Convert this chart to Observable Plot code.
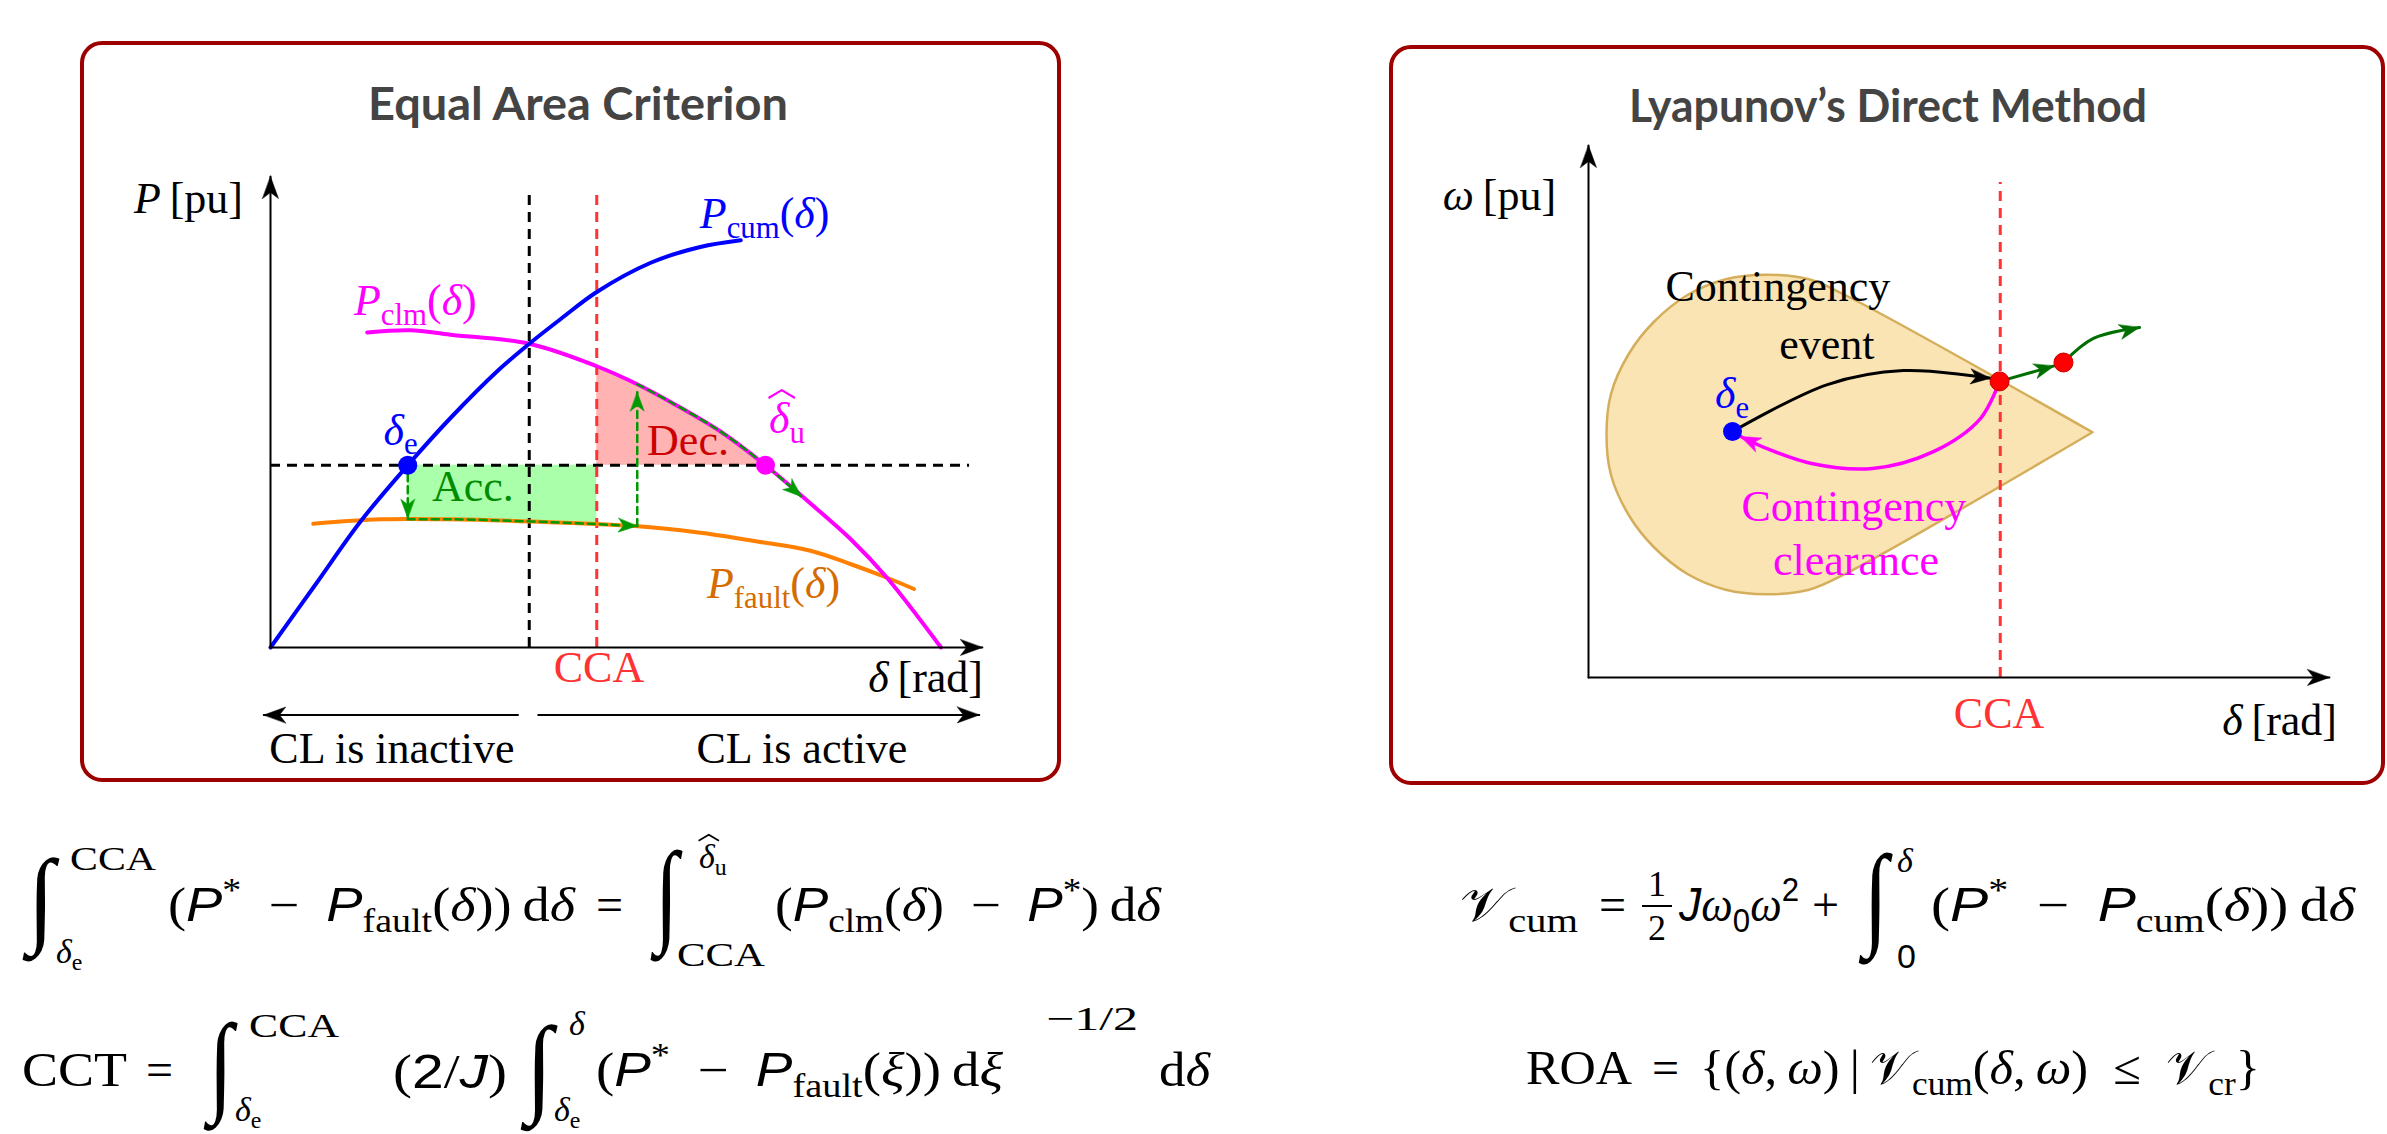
<!DOCTYPE html>
<html>
<head>
<meta charset="utf-8">
<script src="https://cdn.jsdelivr.net/npm/d3@7"></script>
<script src="https://cdn.jsdelivr.net/npm/@observablehq/plot@0.6"></script>
<style>
  html, body { margin: 0; padding: 0; background: #fff; overflow: hidden; }
  #page { position: relative; width: 2387px; height: 1134px; overflow: hidden; background: #fff; }
  .panel { position: absolute; box-sizing: border-box; border: 4px solid #9c0000; border-radius: 22px; }
  #page svg { position: absolute; left: 0; top: 0; max-width: none !important; overflow: visible; }
</style>
</head>
<body>
<div id="page">
  <div class="panel" style="left:80px;top:41px;width:981px;height:741px"></div>
  <div class="panel" style="left:1389px;top:45px;width:996px;height:740px"></div>
</div>
<script>
// ================= DATA =================
// ---- Equal Area Criterion (delta in rad, P in pu) ----
const pStar = 0.81;
const deltaE = 0.61;
const deltaCross = 1.15;
const deltaCCA = 1.45;
const deltaU = 2.20;
const eacDashTop = 2.03;
const eacPStarEnd = 3.107;
const eacAxisX = [0, 3.164];
const eacAxisY = [0, 2.093];
const pCumDelta = [0, 0.20, 0.40, 0.61, 0.80, 1.01, 1.15, 1.29, 1.45, 1.69, 1.91, 2.09];
const pCumValue = [0, 0.28, 0.56, 0.81, 1.02, 1.23, 1.35, 1.46, 1.58, 1.71, 1.78, 1.81];
const pClmDelta = [0.43, 0.62, 0.80, 1.15, 1.45, 1.63, 1.78, 2.00, 2.20, 2.40, 2.58, 2.74, 2.98];
const pClmValue = [1.40, 1.41, 1.39, 1.35, 1.25, 1.17, 1.09, 0.96, 0.81, 0.64, 0.48, 0.31, 0.00];
const pFaultDelta = [0.19, 0.49, 0.80, 1.16, 1.62, 1.91, 2.17, 2.40, 2.58, 2.74, 2.86];
const pFaultValue = [0.55, 0.57, 0.57, 0.56, 0.54, 0.51, 0.47, 0.43, 0.37, 0.31, 0.26];
const accDelta = [0.61, 0.80, 1.16, 1.45];
const accFault = [0.57, 0.57, 0.56, 0.55];
const decDelta = [1.45, 1.63, 1.78, 2.00, 2.20];
const decClm = [1.25, 1.17, 1.09, 0.96, 0.81];
const dropDelta = [0.61, 0.61],             dropP = [0.77, 0.575];
const alongFaultDelta = [0.61, 0.80, 1.16, 1.63], alongFaultP = [0.57, 0.57, 0.56, 0.54];
const riseDelta = [1.63, 1.63],             riseP = [0.54, 1.135];
const alongClmDelta = [1.63, 1.78, 2.00, 2.20, 2.36], alongClmP = [1.17, 1.09, 0.96, 0.81, 0.67];
const clInactiveDelta = [1.10, -0.03], clActiveDelta = [1.19, 3.15], clArrowP = -0.30;

// ---- Lyapunov's Direct Method (delta in rad, omega in pu) ----
const ldmAxisX = [0, 3.293];
const ldmAxisY = [0, 2.364];
const ldmCCA = 1.83, ldmDashTop = 2.20;
// region of attraction boundary: from the tip, over the top, round the left, back to the tip
const roaDelta = [2.24, 1.14, 0.98, 0.79, 0.61, 0.44, 0.29, 0.18, 0.10, 0.08, 0.10, 0.18, 0.29, 0.44, 0.61, 0.79, 0.98, 1.14, 2.24];
const roaOmega = [1.09, 1.70, 1.77, 1.79, 1.77, 1.70, 1.58, 1.44, 1.26, 1.08, 0.90, 0.72, 0.58, 0.46, 0.39, 0.37, 0.39, 0.46, 1.09];
const eqPoint = {delta: 0.64, omega: 1.093};
const clearPoints = {delta: [1.827, 2.111], omega: [1.316, 1.40]};
const eventDelta = [0.64, 1.062, 1.40, 1.787], eventOmega = [1.093, 1.302, 1.364, 1.33];
const clearDelta = [1.827, 1.742, 1.533, 1.262, 0.991, 0.791, 0.676];
const clearOmega = [1.316, 1.151, 1.004, 0.929, 0.951, 1.018, 1.071];
const post1Delta = [1.827, 2.07], post1Omega = [1.316, 1.385];
const post2Delta = [2.111, 2.244, 2.449], post2Omega = [1.40, 1.507, 1.556];

// ================= HELPERS =================
const W = 2387, H = 1134;
const SERIF = "Liberation Serif";
const SANS = "Liberation Sans";
const toPts = (xs, ys) => xs.map((x, i) => ({x, y: ys[i]}));
const stealth = {
  draw(ctx, l, r) {
    ctx.moveTo(0, -l); ctx.lineTo(r, 0); ctx.lineTo(0, -0.28 * l); ctx.lineTo(-r, 0); ctx.closePath();
  }
};
function headsOf(paths) {
  return paths.map(p => {
    const a = p[p.length - 2], b = p[p.length - 1];
    return {x: b.x, y: b.y, rot: Math.atan2(b.x - a.x, b.y - a.y) * 180 / Math.PI};
  });
}
function heads(paths, color, len, r) {
  return Plot.vector(headsOf(paths), {x: "x", y: "y", rotate: "rot", length: len, r, shape: stealth, anchor: "end", fill: color, stroke: color, strokeWidth: 0.5});
}
function mtext(g, x, y, parts, o = {}) {
  const size = o.size || 44;
  const t = g.append("text").attr("x", x).attr("y", y)
    .attr("text-anchor", o.anchor || "start")
    .attr("font-family", o.family || SERIF).attr("font-size", size)
    .attr("font-weight", o.weight || "normal")
    .attr("fill", o.color || "#000").style("white-space", "pre");
  if (o.len) t.attr("textLength", o.len).attr("lengthAdjust", "spacingAndGlyphs");
  let shift = 0;
  for (const p of parts) {
    const [s, f] = Array.isArray(p) ? p : [p, ""];
    const fl = f.split(" ");
    const ts = t.append("tspan").text(s);
    let target = 0, fs = size;
    if (fl.includes("sub")) { target = 0.22 * size; fs = 0.7 * size; }
    if (fl.includes("sup")) { target = -0.42 * size; fs = 0.7 * size; }
    if (target !== shift) ts.attr("dy", target - shift);
    shift = target;
    ts.attr("font-size", fs);
    if (fl.includes("i")) ts.attr("font-style", "italic");
    if (fl.includes("sf")) ts.attr("font-family", SANS);
  }
  return t;
}
const mctx = document.createElement("canvas").getContext("2d");
function integral(g, x0, x1, y0, y1) {
  const F = 100;
  mctx.font = `${F}px "${SERIF}"`;
  const m = mctx.measureText("∫");
  const iw = m.actualBoundingBoxLeft + m.actualBoundingBoxRight;
  const ih = m.actualBoundingBoxAscent + m.actualBoundingBoxDescent;
  const sx = (x1 - x0) / iw, sy = (y1 - y0) / ih;
  g.append("text").text("∫").attr("font-family", SERIF).attr("font-size", F)
    .attr("transform", `translate(${x0 + m.actualBoundingBoxLeft * sx},${y0 + m.actualBoundingBoxAscent * sy}) scale(${sx},${sy})`);
}
// delta with a wide hat accent (drawn as a stroke) and a subscript, starting at x
function hatDelta(g, x, y, sub, size, color) {
  mctx.font = `italic ${size}px "${SERIF}"`;
  const w = mctx.measureText("δ").width;
  mtext(g, x, y, [["δ", "i"], [sub, "sub"]], {size, color});
  const cx = x + w * 0.62, hw = 0.30 * size, y0 = y - 0.80 * size, y1 = y - 0.98 * size;
  g.append("path").attr("d", `M${cx - hw},${y0}L${cx},${y1}L${cx + hw},${y0}`)
    .attr("fill", "none").attr("stroke", color).attr("stroke-width", size * 0.05).attr("stroke-linejoin", "round");
}

// ================= LEFT PANEL =================
const cumPts = toPts(pCumDelta, pCumValue);
const clmPts = toPts(pClmDelta, pClmValue);
const faultPts = toPts(pFaultDelta, pFaultValue);
const dropPts = toPts(dropDelta, dropP);
const alongFaultPts = toPts(alongFaultDelta, alongFaultP);
const risePts = toPts(riseDelta, riseP);
const alongClmPts = toPts(alongClmDelta, alongClmP);
const eacXAxis = [{x: eacAxisX[0], y: 0}, {x: eacAxisX[1], y: 0}];
const eacYAxis = [{x: 0, y: eacAxisY[0]}, {x: 0, y: eacAxisY[1]}];
const clInactive = toPts(clInactiveDelta, [clArrowP, clArrowP]);
const clActive = toPts(clActiveDelta, [clArrowP, clArrowP]);
const GREEN = "#009a00";

const left = Plot.plot({
  width: W, height: H,
  marginLeft: 270, marginRight: W - 990, marginTop: 647 - 472.5, marginBottom: H - 647,
  x: {domain: [0, 3.2], axis: null}, y: {domain: [0, 2.1], axis: null},
  style: {background: "transparent", overflow: "visible"},
  marks: [
    Plot.areaY(toPts(accDelta, accFault), {x: "x", y1: "y", y2: pStar, fill: "#aaffaa", curve: "catmull-rom"}),
    Plot.areaY(toPts(decDelta, decClm), {x: "x", y1: pStar, y2: "y", fill: "#ffb3b3", curve: "catmull-rom"}),
    Plot.ruleY([pStar], {x1: 0, x2: eacPStarEnd, stroke: "#000", strokeWidth: 3, strokeDasharray: "10,7"}),
    Plot.ruleX([deltaCross], {y1: 0, y2: eacDashTop, stroke: "#000", strokeWidth: 3, strokeDasharray: "10,7"}),
    Plot.ruleX([deltaCCA], {y1: 0, y2: eacDashTop, stroke: "#ff3333", strokeWidth: 3, strokeDasharray: "10,7"}),
    Plot.line(faultPts, {x: "x", y: "y", stroke: "#ff8000", strokeWidth: 4, curve: "catmull-rom"}),
    Plot.line(clmPts, {x: "x", y: "y", stroke: "#ff00ff", strokeWidth: 4, curve: "catmull-rom"}),
    Plot.line(cumPts, {x: "x", y: "y", stroke: "#0000ff", strokeWidth: 4, curve: "catmull-rom"}),
    Plot.line(dropPts, {x: "x", y: "y", stroke: GREEN, strokeWidth: 2.5, strokeDasharray: "7,5"}),
    Plot.line(alongFaultPts, {x: "x", y: "y", stroke: GREEN, strokeWidth: 2.5, strokeDasharray: "7,5", curve: "catmull-rom"}),
    Plot.line(risePts, {x: "x", y: "y", stroke: GREEN, strokeWidth: 2.5, strokeDasharray: "7,5"}),
    Plot.line(alongClmPts, {x: "x", y: "y", stroke: GREEN, strokeWidth: 2.5, strokeDasharray: "7,5", curve: "catmull-rom"}),
    heads([dropPts, alongFaultPts, risePts, alongClmPts], GREEN, 19, 7),
    Plot.line(eacXAxis, {x: "x", y: "y", stroke: "#000", strokeWidth: 2}),
    Plot.line(eacYAxis, {x: "x", y: "y", stroke: "#000", strokeWidth: 2}),
    Plot.line(clInactive, {x: "x", y: "y", stroke: "#000", strokeWidth: 2}),
    Plot.line(clActive, {x: "x", y: "y", stroke: "#000", strokeWidth: 2}),
    heads([eacXAxis, eacYAxis, clInactive, clActive], "#000", 22, 8),
    Plot.dot([{x: deltaE, y: pStar}], {x: "x", y: "y", r: 9.5, fill: "#0000ff"}),
    Plot.dot([{x: deltaU, y: pStar}], {x: "x", y: "y", r: 9.5, fill: "#ff00ff"})
  ]
});
document.getElementById("page").appendChild(left);
{
  const sx = left.scale("x"), sy = left.scale("y");
  const g = d3.select(left).append("g");
  const T = (x, y, parts, o) => mtext(g, sx.apply(x), sy.apply(y), parts, o);
  T(-0.12, 1.93, [["P", "i"], "\u2009[pu]"], {anchor: "end"});
  T(3.169, -0.20, [["δ", "i"], "\u2009[rad]"], {anchor: "end"});
  T(1.462, -0.156, ["CCA"], {anchor: "middle", color: "#ff3333"});
  T(0.58, 0.90, [["δ", "i"], ["e", "sub"]], {anchor: "middle", color: "#0000ff"});
  T(0.373, 1.476, [["P", "i"], ["clm", "sub"], "(", ["δ", "i"], ")"], {color: "#ff00ff"});
  T(1.91, 1.862, [["P", "i"], ["cum", "sub"], "(", ["δ", "i"], ")"], {color: "#0000ff"});
  T(1.942, 0.218, [["P", "i"], ["fault", "sub"], "(", ["δ", "i"], ")"], {color: "#d46c00"});
  T(0.72, 0.649, ["Acc."], {color: "#008c00"});
  T(1.676, 0.853, ["Dec."], {color: "#cc0000"});
  hatDelta(g, sx.apply(2.218), sy.apply(0.95), "u", 44, "#ff00ff");
  T(0.542, -0.516, ["CL is inactive"], {anchor: "middle"});
  T(2.364, -0.516, ["CL is active"], {anchor: "middle"});
}

// ================= RIGHT PANEL =================
const ldmXAxis = [{x: ldmAxisX[0], y: 0}, {x: ldmAxisX[1], y: 0}];
const ldmYAxis = [{x: 0, y: ldmAxisY[0]}, {x: 0, y: ldmAxisY[1]}];
const eventPts = toPts(eventDelta, eventOmega);
const clearPts = toPts(clearDelta, clearOmega);
const post1 = toPts(post1Delta, post1Omega);
const post2 = toPts(post2Delta, post2Omega);
const DKGREEN = "#006e00";

const right = Plot.plot({
  width: W, height: H,
  marginLeft: 1588, marginRight: W - 2353, marginTop: 677 - 540, marginBottom: H - 677,
  x: {domain: [0, 3.4], axis: null}, y: {domain: [0, 2.4], axis: null},
  style: {background: "transparent", overflow: "visible"},
  marks: [
    Plot.line(toPts(roaDelta, roaOmega), {x: "x", y: "y", fill: "#fbe4b4", stroke: "#d4ae5a", strokeWidth: 2.5, curve: "catmull-rom"}),
    Plot.ruleX([ldmCCA], {y1: 0, y2: ldmDashTop, stroke: "#ff3333", strokeWidth: 3, strokeDasharray: "10,7"}),
    Plot.line(ldmXAxis, {x: "x", y: "y", stroke: "#000", strokeWidth: 2}),
    Plot.line(ldmYAxis, {x: "x", y: "y", stroke: "#000", strokeWidth: 2}),
    heads([ldmXAxis, ldmYAxis], "#000", 22, 8),
    Plot.line(eventPts, {x: "x", y: "y", stroke: "#000", strokeWidth: 3, curve: "catmull-rom"}),
    heads([eventPts], "#000", 20, 7.5),
    Plot.line(clearPts, {x: "x", y: "y", stroke: "#ff00ff", strokeWidth: 3.5, curve: "catmull-rom"}),
    heads([clearPts], "#ff00ff", 20, 7.5),
    Plot.line(post1, {x: "x", y: "y", stroke: DKGREEN, strokeWidth: 3}),
    Plot.line(post2, {x: "x", y: "y", stroke: DKGREEN, strokeWidth: 3, curve: "catmull-rom"}),
    heads([post1, post2], DKGREEN, 20, 7.5),
    Plot.dot([eqPoint], {x: "delta", y: "omega", r: 9.5, fill: "#0000ff"}),
    Plot.dot(toPts(clearPoints.delta, clearPoints.omega), {x: "x", y: "y", r: 9.5, fill: "#ff0000", stroke: "#c80000", strokeWidth: 1})
  ]
});
document.getElementById("page").appendChild(right);
{
  const sx = right.scale("x"), sy = right.scale("y");
  const g = d3.select(right).append("g");
  const T = (x, y, parts, o) => mtext(g, sx.apply(x), sy.apply(y), parts, o);
  T(-0.142, 2.076, [["ω", "i"], "\u2009[pu]"], {anchor: "end"});
  T(3.329, -0.258, [["δ", "i"], "\u2009[rad]"], {anchor: "end"});
  T(1.827, -0.227, ["CCA"], {anchor: "middle", color: "#ff3333"});
  T(0.64, 1.196, [["δ", "i"], ["e", "sub"]], {anchor: "middle", color: "#0000ff"});
  T(0.844, 1.671, ["Contingency"], {anchor: "middle"});
  T(1.062, 1.413, ["event"], {anchor: "middle"});
  T(1.182, 0.693, ["Contingency"], {anchor: "middle", color: "#ff00ff"});
  T(1.191, 0.453, ["clearance"], {anchor: "middle", color: "#ff00ff"});
}

// ================= TITLES & EQUATIONS =================
const eq = d3.select("#page").append("svg").attr("width", W).attr("height", H);
mtext(eq, 578, 120, ["Equal Area Criterion"], {anchor: "middle", family: "Lato", weight: "bold", size: 45, color: "#444", len: 420});
mtext(eq, 1888, 122, ["Lyapunov’s Direct Method"], {anchor: "middle", family: "Lato", weight: "bold", size: 45, color: "#444", len: 518});

const S = 48, s = 34;
const M = "\u2002−\u2002";
// eq 1
integral(eq, 22, 60, 857, 962);
mtext(eq, 70, 870, ["CCA"], {size: s, len: 86});
mtext(eq, 56, 963, [["δ", "i"], ["e", "sub"]], {size: s});
mtext(eq, 168, 921, ["(", ["P", "sf i"], ["*", "sup"], M, ["P", "sf i"], ["fault", "sub"], "(", ["δ", "i"], "))\u2009d", ["δ", "i"]], {size: S, len: 407});
mtext(eq, 596, 921, ["="], {size: S});
integral(eq, 650, 683, 849, 962);
hatDelta(eq, 699, 868, "u", s, "#000");
mtext(eq, 677, 966, ["CCA"], {size: s, len: 88});
mtext(eq, 775, 921, ["(", ["P", "sf i"], ["clm", "sub"], "(", ["δ", "i"], ")", M, ["P", "sf i"], ["*", "sup"], ")\u2009d", ["δ", "i"]], {size: S, len: 386});
// eq 2
mtext(eq, 22, 1086, ["CCT"], {size: S, len: 105});
mtext(eq, 146, 1086, ["="], {size: S});
integral(eq, 203, 238, 1021, 1131);
mtext(eq, 249, 1037, ["CCA"], {size: s, len: 90});
mtext(eq, 235, 1121, [["δ", "i"], ["e", "sub"]], {size: s});
mtext(eq, 393, 1088, ["(", ["2", "sf"], "/", ["J", "sf i"], ")"], {size: S, len: 114});
integral(eq, 520, 558, 1023, 1131);
mtext(eq, 569, 1035, [["δ", "i"]], {size: s});
mtext(eq, 554, 1121, [["δ", "i"], ["e", "sub"]], {size: s});
mtext(eq, 596, 1086, ["(", ["P", "sf i"], ["*", "sup"], M, ["P", "sf i"], ["fault", "sub"], "(", ["ξ", "i"], "))\u2009d", ["ξ", "i"]], {size: S, len: 407});
mtext(eq, 1046, 1030, ["−1/2"], {size: s, len: 92});
mtext(eq, 1159, 1086, ["d", ["δ", "i"]], {size: S, len: 51});
// eq 3
mtext(eq, 1460, 921, ["𝒱", ["cum", "sub"]], {size: S, len: 118});
mtext(eq, 1599, 921, ["="], {size: S});
mtext(eq, 1657, 896, ["1"], {size: 36, anchor: "middle"});
eq.append("line").attr("x1", 1642).attr("x2", 1672).attr("y1", 906).attr("y2", 906).attr("stroke", "#000").attr("stroke-width", 2);
mtext(eq, 1657, 940, ["2"], {size: 36, anchor: "middle"});
mtext(eq, 1679, 921, [["J", "sf i"], ["ω", "i"], ["0", "sub sf"], ["ω", "i"], ["2", "sup sf"]], {size: S, len: 120});
mtext(eq, 1812, 921, ["+"], {size: S});
integral(eq, 1858, 1893, 852, 965);
mtext(eq, 1897, 872, [["δ", "i"]], {size: s});
mtext(eq, 1897, 968, [["0", "sf"]], {size: s});
mtext(eq, 1931, 921, ["(", ["P", "sf i"], ["*", "sup"], M, ["P", "sf i"], ["cum", "sub"], "(", ["δ", "i"], "))\u2009d", ["δ", "i"]], {size: S, len: 424});
// eq 4
mtext(eq, 1526, 1084, ["ROA"], {size: S, len: 106});
mtext(eq, 1652, 1084, ["="], {size: S});
mtext(eq, 1700, 1084, ["{(", ["δ", "i"], ",\u2009", ["ω", "i"], ")\u2009|\u2009𝒱", ["cum", "sub"], "(", ["δ", "i"], ",\u2009", ["ω", "i"], ")\u2002≤\u2002𝒱", ["cr", "sub"], "}"], {size: S, len: 560});
</script>
</body>
</html>
